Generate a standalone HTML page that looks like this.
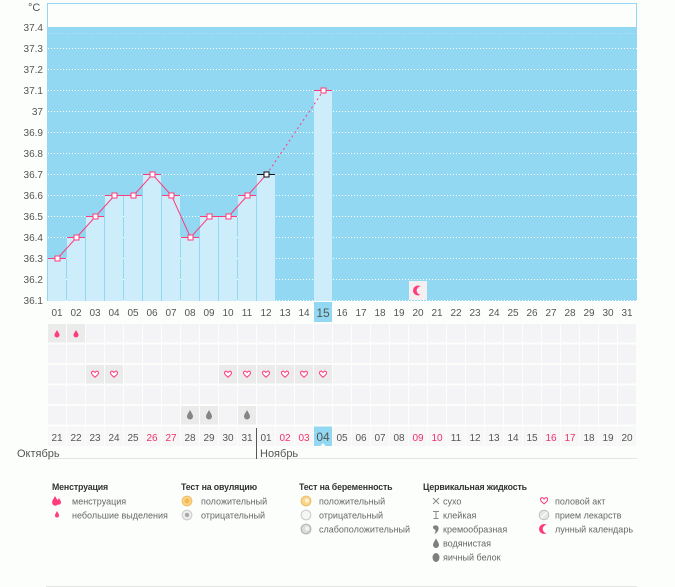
<!DOCTYPE html>
<html><head><meta charset="utf-8"><style>
html,body{margin:0;padding:0;background:#fcfefc;}
svg{display:block;font-family:"Liberation Sans","DejaVu Sans",sans-serif;}
</style></head><body>
<svg width="675" height="587" viewBox="0 0 675 587" xmlns="http://www.w3.org/2000/svg">
<defs>
<pattern id="cells" x="48" y="324" width="19" height="20.5" patternUnits="userSpaceOnUse">
<rect x="0" y="0" width="18" height="18.5" fill="#f4f4f6"/>
</pattern>
<pattern id="cellsb" x="48" y="426.5" width="19" height="20" patternUnits="userSpaceOnUse">
<rect x="0" y="0" width="18" height="19.5" fill="#f7f7f8"/>
</pattern>
<path id="heart" d="M0,2.5 C0,0.3 2,-0.5 3.2,0.7 L4.5,1.9 L5.8,0.7 C7,-0.5 9,0.3 9,2.5 C9,4.5 6,6.5 4.5,8 C3,6.5 0,4.5 0,2.5Z"/>
</defs>
<rect width="675" height="587" fill="#fcfefc"/>
<!-- chart frame -->
<rect x="47.5" y="3.5" width="589" height="24" fill="#fcfefc" stroke="#93d8f2" stroke-width="1"/>
<rect x="47" y="27" width="590" height="274" fill="#93d8f2"/>
<!-- grid -->
<g stroke="#ffffff" stroke-width="1" stroke-dasharray="1,2">
<line x1="48" x2="637" y1="33.5" y2="33.5" stroke-opacity="0.3"/>
<line x1="48" x2="637" y1="48.5" y2="48.5"/>
<line x1="48" x2="637" y1="69.5" y2="69.5"/>
<line x1="48" x2="637" y1="90.5" y2="90.5"/>
<line x1="48" x2="637" y1="111.5" y2="111.5"/>
<line x1="48" x2="637" y1="132.5" y2="132.5"/>
<line x1="48" x2="637" y1="153.5" y2="153.5"/>
<line x1="48" x2="637" y1="174.5" y2="174.5"/>
<line x1="48" x2="637" y1="195.5" y2="195.5"/>
<line x1="48" x2="637" y1="216.5" y2="216.5"/>
<line x1="48" x2="637" y1="237.5" y2="237.5"/>
<line x1="48" x2="637" y1="258.5" y2="258.5"/>
<line x1="48" x2="637" y1="279.5" y2="279.5"/>
<line x1="48" x2="637" y1="300.5" y2="300.5"/>
</g>
<!-- bars -->
<g fill="#cdedfb">
<rect x="48" y="258" width="18" height="43"/>
<rect x="67" y="237" width="18" height="64"/>
<rect x="86" y="216" width="18" height="85"/>
<rect x="105" y="195" width="18" height="106"/>
<rect x="124" y="195" width="18" height="106"/>
<rect x="143" y="174" width="18" height="127"/>
<rect x="162" y="195" width="18" height="106"/>
<rect x="181" y="237" width="18" height="64"/>
<rect x="200" y="216" width="18" height="85"/>
<rect x="219" y="216" width="18" height="85"/>
<rect x="238" y="195" width="18" height="106"/>
<rect x="257" y="174" width="18" height="127"/>
<rect x="314" y="90" width="18" height="211"/>
</g>
<!-- bar top lines -->
<g stroke="#ff3b7b" stroke-width="1">
<line x1="48" x2="66" y1="258.5" y2="258.5"/>
<line x1="67" x2="85" y1="237.5" y2="237.5"/>
<line x1="86" x2="104" y1="216.5" y2="216.5"/>
<line x1="105" x2="123" y1="195.5" y2="195.5"/>
<line x1="124" x2="142" y1="195.5" y2="195.5"/>
<line x1="143" x2="161" y1="174.5" y2="174.5"/>
<line x1="162" x2="180" y1="195.5" y2="195.5"/>
<line x1="181" x2="199" y1="237.5" y2="237.5"/>
<line x1="200" x2="218" y1="216.5" y2="216.5"/>
<line x1="219" x2="237" y1="216.5" y2="216.5"/>
<line x1="238" x2="256" y1="195.5" y2="195.5"/>
<line x1="314" x2="332" y1="90.5" y2="90.5"/>
</g>
<line x1="257" x2="275" y1="174.5" y2="174.5" stroke="#111" stroke-width="1"/>
<!-- connecting line -->
<polyline points="57.5,258.5 76.5,237.5 95.5,216.5 114.5,195.5 133.5,195.5 152.5,174.5 171.5,195.5 190.5,237.5 209.5,216.5 228.5,216.5 247.5,195.5 266.5,174.5" fill="none" stroke="#ff3b7b" stroke-width="1"/>
<line x1="266.5" y1="174.5" x2="323.5" y2="90.5" stroke="#ff3b7b" stroke-width="1" stroke-dasharray="2,3"/>
<!-- markers -->
<g fill="#ffffff" stroke="#ff3b7b" stroke-width="1">
<rect x="55" y="256" width="5" height="5"/>
<rect x="74" y="235" width="5" height="5"/>
<rect x="93" y="214" width="5" height="5"/>
<rect x="112" y="193" width="5" height="5"/>
<rect x="131" y="193" width="5" height="5"/>
<rect x="150" y="172" width="5" height="5"/>
<rect x="169" y="193" width="5" height="5"/>
<rect x="188" y="235" width="5" height="5"/>
<rect x="207" y="214" width="5" height="5"/>
<rect x="226" y="214" width="5" height="5"/>
<rect x="245" y="193" width="5" height="5"/>
<rect x="321" y="88" width="5" height="5"/>
</g>
<rect x="264" y="172" width="5" height="5" fill="#ffffff" stroke="#111" stroke-width="1"/>
<!-- moon box -->
<rect x="409" y="281" width="18" height="19" fill="#f4f0f2"/>
<circle cx="418" cy="290.5" r="5" fill="#ff3b7b"/>
<circle cx="421" cy="290.5" r="4.3" fill="#f4f0f2"/>
<!-- y axis labels -->
<g font-size="10" fill="#555" text-anchor="end">
<text x="43" y="31">37.4</text>
<text x="43" y="52">37.3</text>
<text x="43" y="73">37.2</text>
<text x="43" y="94">37.1</text>
<text x="43" y="115">37</text>
<text x="43" y="136">36.9</text>
<text x="43" y="157">36.8</text>
<text x="43" y="178">36.7</text>
<text x="43" y="199">36.6</text>
<text x="43" y="220">36.5</text>
<text x="43" y="241">36.4</text>
<text x="43" y="262">36.3</text>
<text x="43" y="283">36.2</text>
<text x="43" y="304">36.1</text>
</g>
<text x="28" y="11" font-size="11" fill="#555">°C</text>
<!-- bottom grid -->
<rect x="48" y="324" width="589" height="102" fill="url(#cells)"/>
<rect x="48" y="426.5" width="589" height="19.5" fill="url(#cellsb)"/>
<!-- filled cells -->
<g fill="#ebebec">
<rect x="48" y="324" width="18" height="18.5"/>
<rect x="67" y="324" width="18" height="18.5"/>
<rect x="86" y="365" width="18" height="18.5"/>
<rect x="105" y="365" width="18" height="18.5"/>
<rect x="219" y="365" width="18" height="18.5"/>
<rect x="238" y="365" width="18" height="18.5"/>
<rect x="257" y="365" width="18" height="18.5"/>
<rect x="276" y="365" width="18" height="18.5"/>
<rect x="295" y="365" width="18" height="18.5"/>
<rect x="314" y="365" width="18" height="18.5"/>
<rect x="181" y="406" width="18" height="18.5"/>
<rect x="200" y="406" width="18" height="18.5"/>
<rect x="238" y="406" width="18" height="18.5"/>
</g>
<!-- highlights -->
<rect x="314" y="302" width="18" height="20" fill="#93d8f2"/>
<rect x="314" y="426.5" width="18" height="19.5" fill="#93d8f2"/>
<polygon points="320.5,446 323,443 325.5,446" fill="#fcfefc"/>
<!-- menstruation small drops -->
<g fill="#ff3b7b">
<path d="M57,330 C58,332 59.5,333.5 59.5,335 A2.5,2.5 0 0 1 54.5,335 C54.5,333.5 56,332 57,330Z"/>
<path d="M76,330 C77,332 78.5,333.5 78.5,335 A2.5,2.5 0 0 1 73.5,335 C73.5,333.5 75,332 76,330Z"/>
</g>
<!-- hearts -->
<g fill="#ffffff" stroke="#ff3b7b" stroke-width="1.3">
<use href="#heart" transform="translate(91.5,371) scale(0.78)"/>
<use href="#heart" transform="translate(110.5,371) scale(0.78)"/>
<use href="#heart" transform="translate(224.5,371) scale(0.78)"/>
<use href="#heart" transform="translate(243.5,371) scale(0.78)"/>
<use href="#heart" transform="translate(262.5,371) scale(0.78)"/>
<use href="#heart" transform="translate(281.5,371) scale(0.78)"/>
<use href="#heart" transform="translate(300.5,371) scale(0.78)"/>
<use href="#heart" transform="translate(319.5,371) scale(0.78)"/>
</g>
<!-- gray drops -->
<g fill="#858585">
<path d="M190,410 C191.5,413 193,414.5 193,416.5 A3,3 0 0 1 187,416.5 C187,414.5 188.5,413 190,410Z"/>
<path d="M209,410 C210.5,413 212,414.5 212,416.5 A3,3 0 0 1 206,416.5 C206,414.5 207.5,413 209,410Z"/>
<path d="M247,410 C248.5,413 250,414.5 250,416.5 A3,3 0 0 1 244,416.5 C244,414.5 245.5,413 247,410Z"/>
</g>
<!-- top day labels -->
<g font-size="10" fill="#555" text-anchor="middle">
<text x="57" y="316">01</text><text x="76" y="316">02</text><text x="95" y="316">03</text><text x="114" y="316">04</text><text x="133" y="316">05</text><text x="152" y="316">06</text><text x="171" y="316">07</text><text x="190" y="316">08</text><text x="209" y="316">09</text><text x="228" y="316">10</text><text x="247" y="316">11</text><text x="266" y="316">12</text><text x="285" y="316">13</text><text x="304" y="316">14</text><text x="323" y="317" font-size="12">15</text><text x="342" y="316">16</text><text x="361" y="316">17</text><text x="380" y="316">18</text><text x="399" y="316">19</text><text x="418" y="316">20</text><text x="437" y="316">21</text><text x="456" y="316">22</text><text x="475" y="316">23</text><text x="494" y="316">24</text><text x="513" y="316">25</text><text x="532" y="316">26</text><text x="551" y="316">27</text><text x="570" y="316">28</text><text x="589" y="316">29</text><text x="608" y="316">30</text><text x="627" y="316">31</text>
</g>
<!-- bottom day labels -->
<g font-size="10" fill="#555" text-anchor="middle">
<text x="57" y="441">21</text><text x="76" y="441">22</text><text x="95" y="441">23</text><text x="114" y="441">24</text><text x="133" y="441">25</text><text x="152" y="441" fill="#f0306a">26</text><text x="171" y="441" fill="#f0306a">27</text><text x="190" y="441">28</text><text x="209" y="441">29</text><text x="228" y="441">30</text><text x="247" y="441">31</text><text x="266" y="441">01</text><text x="285" y="441" fill="#f0306a">02</text><text x="304" y="441" fill="#f0306a">03</text><text x="323" y="441" font-size="12">04</text><text x="342" y="441">05</text><text x="361" y="441">06</text><text x="380" y="441">07</text><text x="399" y="441">08</text><text x="418" y="441" fill="#f0306a">09</text><text x="437" y="441" fill="#f0306a">10</text><text x="456" y="441">11</text><text x="475" y="441">12</text><text x="494" y="441">13</text><text x="513" y="441">14</text><text x="532" y="441">15</text><text x="551" y="441" fill="#f0306a">16</text><text x="570" y="441" fill="#f0306a">17</text><text x="589" y="441">18</text><text x="608" y="441">19</text><text x="627" y="441">20</text>
</g>
<!-- month separators -->
<line x1="48" x2="637" y1="458.5" y2="458.5" stroke="#e4e6e4" stroke-width="1"/>
<line x1="256.5" x2="256.5" y1="428" y2="459" stroke="#555" stroke-width="1"/>
<text x="17" y="457" font-size="11" fill="#555">Октябрь</text>
<text x="260" y="457" font-size="11" fill="#555">Ноябрь</text>
<!-- legend -->
<g font-size="8.8" font-weight="bold" fill="#333" letter-spacing="-0.15">
<text x="52" y="490">Менструация</text>
<text x="181" y="490">Тест на овуляцию</text>
<text x="299" y="490">Тест на беременность</text>
<text x="423" y="490">Цервикальная жидкость</text>
</g>
<g font-size="9" fill="#666">
<text x="72" y="504.5">менструация</text>
<text x="72" y="518.5">небольшие выделения</text>
<text x="201" y="504.5">положительный</text>
<text x="201" y="518.5">отрицательный</text>
<text x="319" y="504.5">положительный</text>
<text x="319" y="518.5">отрицательный</text>
<text x="319" y="532.5">слабоположительный</text>
<text x="443" y="504.5">сухо</text>
<text x="443" y="518.5">клейкая</text>
<text x="443" y="532.5">кремообразная</text>
<text x="443" y="546.5">водянистая</text>
<text x="443" y="560.5">яичный белок</text>
<text x="555" y="504.5">половой акт</text>
<text x="555" y="518.5">прием лекарств</text>
<text x="555" y="532.5">лунный календарь</text>
</g>
<!-- legend icons -->
<g fill="#ff3b7b">
<path d="M55,496 C56.5,499 58.5,500.5 58.5,502.5 A3.2,3.2 0 0 1 52.1,502.5 C52.1,500.5 53.5,499 55,496Z"/>
<path d="M59,498 C60,500 61,501 61,502.5 A2.2,2.2 0 0 1 56.6,502.5 C56.6,501 58,500 59,498Z"/>
<path d="M57,511 C58,513 59,514 59,515.5 A2,2 0 0 1 55,515.5 C55,514 56,513 57,511Z"/>
</g>
<circle cx="187" cy="501" r="4.8" fill="#fbd58c" stroke="#f3c06a" stroke-width="1.2"/>
<circle cx="187" cy="501" r="2.5" fill="#f5b84e"/>
<circle cx="187" cy="515" r="4.8" fill="#eeeeee" stroke="#cfcfcf" stroke-width="1.2"/>
<circle cx="187" cy="515" r="2.2" fill="#a8a8a8"/>
<circle cx="306" cy="501" r="4.8" fill="#fbd58c" stroke="#f0c070" stroke-width="1.2"/>
<circle cx="307" cy="500.5" r="2" fill="#fff3d8"/>
<circle cx="306" cy="515" r="4.8" fill="#f6f6f6" stroke="#cfcfcf" stroke-width="1.2"/>
<circle cx="306" cy="529" r="4.8" fill="#dcdcdc" stroke="#b5b5b5" stroke-width="1.2"/>
<circle cx="307" cy="528.5" r="2" fill="#f4f4f4"/>
<g stroke="#8a8a8a" stroke-width="1" fill="none">
<line x1="433" y1="498" x2="439" y2="504"/>
<line x1="439" y1="498" x2="433" y2="504"/>
<line x1="433" y1="511.5" x2="439" y2="511.5"/>
<line x1="436" y1="511.5" x2="436" y2="518.5"/>
<line x1="433.5" y1="518.5" x2="438.5" y2="518.5"/>
</g>
<g fill="#7f7f7f">
<path d="M433,527 C433,525 438,524.5 438.5,527.5 C439,530.5 437,533 434.5,534 C435.5,532 436,530.5 435,529.5 C434,529.5 433,528.5 433,527Z"/>
<path d="M436,538.5 C437.5,541.5 439,543 439,545 A3,3 0 0 1 433,545 C433,543 434.5,541.5 436,538.5Z"/>
<ellipse cx="436" cy="557.5" rx="3.5" ry="4.5"/>
</g>
<use href="#heart" transform="translate(540.5,497.5) scale(0.8)" fill="#ffffff" stroke="#ff3b7b" stroke-width="1.3"/>
<circle cx="544" cy="515" r="4.8" fill="#e6e6e6" stroke="#c2c2c2" stroke-width="1"/>
<line x1="541" y1="518" x2="547" y2="512" stroke="#ffffff" stroke-width="1.2"/>
<circle cx="544" cy="529" r="5" fill="#ff3b7b"/>
<circle cx="547" cy="529" r="4.3" fill="#fcfefc"/>
<line x1="46" x2="637" y1="586.5" y2="586.5" stroke="#e4e6e4" stroke-width="1"/>
</svg>
</body></html>
